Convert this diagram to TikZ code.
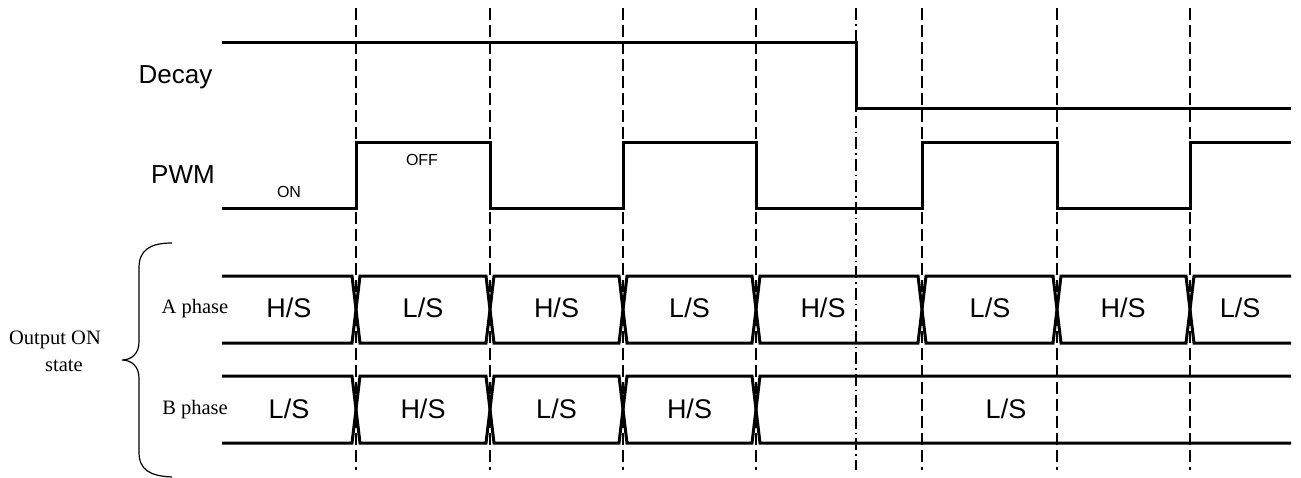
\documentclass[tikz,border=0pt]{standalone}
\usepackage{fontspec}
\setmainfont{Liberation Serif}
\newfontfamily\gf{Liberation Sans}
\begin{document}
\begin{tikzpicture}[x=1pt,y=-1pt,
  wave/.style={line width=3pt, line join=miter},
  gridl/.style={line width=1.4pt, dash pattern=on 12pt off 5pt},
  gridc/.style={line width=1.4pt, dash pattern=on 12pt off 4pt on 1.5pt off 4pt},
  biglbl/.style={font=\gf\fontsize{26}{30}\selectfont, inner sep=0pt, anchor=base},
  buslbl/.style={font=\gf\fontsize{27}{30}\selectfont, inner sep=0pt, anchor=base},
  smalllbl/.style={font=\gf\fontsize{16}{18}\selectfont, inner sep=0pt, anchor=base},
  serlbl/.style={font=\fontsize{20.5}{24}\selectfont, inner sep=0pt, anchor=base}]
\useasboundingbox (0,0) rectangle (1301,477);
% grid lines
\foreach \gx/\gn in {356/a,490/b,623/c,756/d,922/e,1057/f,1190/g}{
  \coordinate (gt\gn) at (\gx,8);
  \coordinate (gb\gn) at (\gx,470);
  \draw[gridl] (gt\gn) -- (gb\gn);
}
\coordinate (gtm) at (856,8);
\coordinate (gbm) at (856,470);
\draw[gridc] (gtm) -- (gbm);
% Decay
\draw[wave] (222,42) -- (856,42) -- (856,108) -- (1291,108);
% PWM
\draw[wave] (222,208) -- (356,208) -- (356,142) -- (490,142) -- (490,208) -- (623,208) -- (623,142) -- (756,142) -- (756,208) -- (922,208) -- (922,142) -- (1057,142) -- (1057,208) -- (1190,208) -- (1190,142) -- (1291,142);
% A phase bus
\draw[wave] (222,276) -- (352,276) -- (360,343) -- (486,343) -- (494,276) -- (619,276) -- (627,343) -- (752,343) -- (760,276) -- (918,276) -- (926,343) -- (1053,343) -- (1061,276) -- (1186,276) -- (1194,343) -- (1291,343);
\draw[wave] (222,343) -- (352,343) -- (360,276) -- (486,276) -- (494,343) -- (619,343) -- (627,276) -- (752,276) -- (760,343) -- (918,343) -- (926,276) -- (1053,276) -- (1061,343) -- (1186,343) -- (1194,276) -- (1291,276);
% B phase bus
\draw[wave] (222,376) -- (352,376) -- (360,443) -- (486,443) -- (494,376) -- (619,376) -- (627,443) -- (752,443) -- (760,376) -- (1291,376);
\draw[wave] (222,443) -- (352,443) -- (360,376) -- (486,376) -- (494,443) -- (619,443) -- (627,376) -- (752,376) -- (760,443) -- (1291,443);
% brace
\draw[line width=1.2pt] (172,243) .. controls (150,243) and (139,250) .. (139,268) -- (139,342) .. controls (139,353) and (132,360) .. (122,360) .. controls (132,360) and (139,367) .. (139,378) -- (139,452) .. controls (139,470) and (150,476) .. (172,477);
% labels
\node[biglbl] (decay) at (175.5,83) {Decay};
\node[biglbl] (pwm) at (183,183) {PWM};
\node[smalllbl] (on) at (289,197.5) {ON};
\node[smalllbl] (off) at (422,165) {OFF};
\node[serlbl] (aph) at (195,313.3) {A phase};
\node[serlbl] (bph) at (195,414) {B phase};
\node[serlbl] (out1) at (55,344) {Output ON};
\node[serlbl] (out2) at (64,371.5) {state};
% A phase texts
\node[buslbl] (a1) at (289,317) {H/S};
\node[buslbl] (a2) at (423,317) {L/S};
\node[buslbl] (a3) at (556.5,317) {H/S};
\node[buslbl] (a4) at (689.5,317) {L/S};
\node[buslbl] (a5) at (823,317) {H/S};
\node[buslbl] (a6) at (990,317) {L/S};
\node[buslbl] (a7) at (1123,317) {H/S};
\node[buslbl] (a8) at (1240,317) {L/S};
% B phase texts
\node[buslbl] (b1) at (289,418) {L/S};
\node[buslbl] (b2) at (423,418) {H/S};
\node[buslbl] (b3) at (556.5,418) {L/S};
\node[buslbl] (b4) at (689.5,418) {H/S};
\node[buslbl] (b5) at (1006,418) {L/S};
\end{tikzpicture}
\end{document}
